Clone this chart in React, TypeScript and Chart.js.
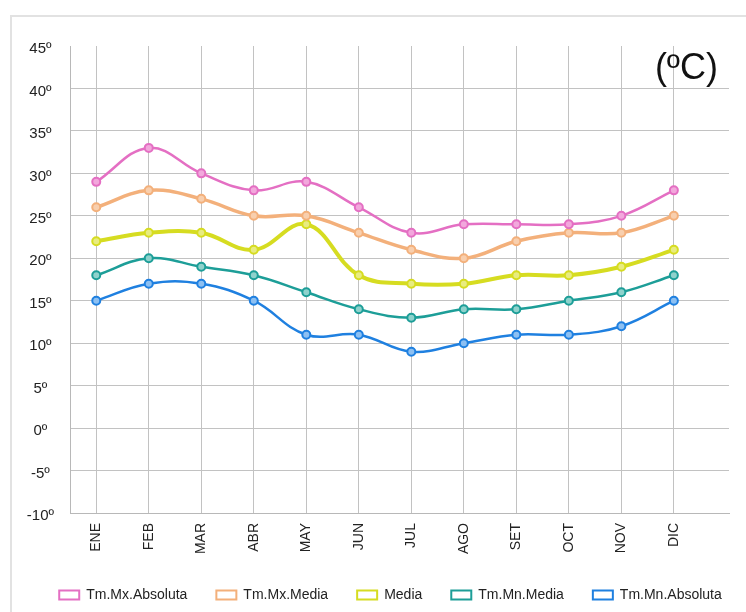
import React, { useEffect, useRef } from 'react';
import { Chart, registerables } from 'chart.js';

Chart.register(...registerables);

const months = ['ENE', 'FEB', 'MAR', 'ABR', 'MAY', 'JUN', 'JUL', 'AGO', 'SET', 'OCT', 'NOV', 'DIC'];
const mxAbsoluta = [29, 33, 30, 28, 29, 26, 23, 24, 24, 24, 25, 28];
const mxMedia = [26, 28, 27, 25, 25, 23, 21, 20, 22, 23, 23, 25];
const media = [22, 23, 23, 21, 24, 18, 17, 17, 18, 18, 19, 21];
const mnMedia = [18, 20, 19, 18, 16, 14, 13, 14, 14, 15, 16, 18];
const mnAbsoluta = [15, 17, 17, 15, 11, 11, 9, 10, 11, 11, 12, 15];
const seriesNames = ['Tm.Mx.Absoluta', 'Tm.Mx.Media', 'Media', 'Tm.Mn.Media', 'Tm.Mn.Absoluta'];
const unitLabel = '(ºC)';

const FONT = '"Liberation Sans", Arial, sans-serif';

export default function App() {
  const ref = useRef<HTMLCanvasElement | null>(null);

  useEffect(() => {
    if (!ref.current) return;
    const series = [mxAbsoluta, mxMedia, media, mnMedia, mnAbsoluta];
    const colors = ['#e46fc3', '#f3b07b', '#d6dc21', '#1d9e98', '#1f80e0'];
    const fills = ['#f2a8dc', '#f8cfae', '#e8ec80', '#8fd2cc', '#8dc0f2'];
    const widths = [2.5, 3.5, 4, 2.5, 2.5];

    const framePlugin = {
      id: 'frame',
      afterLayout(chart: any) {
        const lg = chart.legend;
        if (lg) {
          lg.left += 26;
          lg.right += 26;
        }
      },
      beforeDraw(chart: any) {
        const ctx = chart.ctx;
        ctx.save();
        ctx.fillStyle = '#ffffff';
        ctx.fillRect(0, 0, chart.width, chart.height);
        ctx.strokeStyle = '#e2e2e2';
        ctx.lineWidth = 2;
        ctx.strokeRect(11, 16, 800, 700);
        ctx.restore();
      },
      afterDraw(chart: any) {
        const ctx = chart.ctx;
        ctx.save();
        ctx.fillStyle = '#111';
        ctx.font = '36px ' + FONT;
        ctx.textAlign = 'right';
        ctx.textBaseline = 'middle';
        ctx.fillText(unitLabel, 718, 69);
        ctx.restore();
      },
    };

    const chart = new Chart(ref.current, {
      type: 'line',
      data: {
        datasets: series.map((vals, k) => ({
          label: seriesNames[k],
          data: vals.map((v, i) => ({ x: i, y: v })),
          borderColor: colors[k],
          backgroundColor: colors[k],
          borderWidth: widths[k],
          tension: 0.4,
          pointRadius: 4,
          pointBorderWidth: 2,
          pointBorderColor: colors[k],
          pointBackgroundColor: fills[k],
          fill: false,
        })),
      },
      options: {
        animation: false,
        responsive: true,
        maintainAspectRatio: false,
        layout: { padding: { left: 0, right: 17, top: 46, bottom: 0 } },
        plugins: {
          tooltip: { enabled: false },
          legend: {
            position: 'bottom',
            labels: {
              boxWidth: 20,
              boxHeight: 9,
              padding: 29,
              color: '#222',
              font: { family: FONT, size: 14 },
              generateLabels: (ch: any) =>
                ch.data.datasets.map((d: any, i: number) => ({
                  text: d.label,
                  fillStyle: '#ffffff',
                  strokeStyle: d.borderColor,
                  lineWidth: 2,
                  hidden: false,
                  datasetIndex: i,
                  fontColor: '#222',
                })),
            },
          },
        },
        scales: {
          x: {
            type: 'linear',
            min: -0.5,
            max: 12.05,
            afterBuildTicks: (s: any) => {
              s.ticks = months.map((_, i) => ({ value: i }));
            },
            afterFit: (s: any) => {
              s.height = 46;
            },
            ticks: {
              autoSkip: false,
              maxRotation: 90,
              minRotation: 90,
              padding: 10,
              color: '#222',
              font: { family: FONT, size: 14 },
              callback: (v: any) => months[v] ?? '',
            },
            grid: { color: '#c2c2c2', lineWidth: 1, drawTicks: false },
            border: { color: '#b8b8b8', width: 1 },
          },
          y: {
            min: -10,
            max: 45,
            afterFit: (s: any) => {
              s.width = 70;
            },
            ticks: {
              stepSize: 5,
              padding: 16,
              labelOffset: 3,
              crossAlign: 'center',
              color: '#222',
              font: { family: FONT, size: 15 },
              callback: (v: any) => v + 'º',
            },
            grid: {
              drawTicks: false,
              lineWidth: 1,
              color: (c: any) => (c.tick && c.tick.value === 45 ? 'rgba(0,0,0,0)' : '#c2c2c2'),
            },
            border: { color: '#b8b8b8', width: 1 },
          },
        },
      } as any,
      plugins: [framePlugin],
    });
    return () => chart.destroy();
  }, []);

  return (
    <div style={{ position: 'fixed', left: 0, top: 0, width: 746, height: 612, background: '#fff' }}>
      <canvas ref={ref} />
    </div>
  );
}
